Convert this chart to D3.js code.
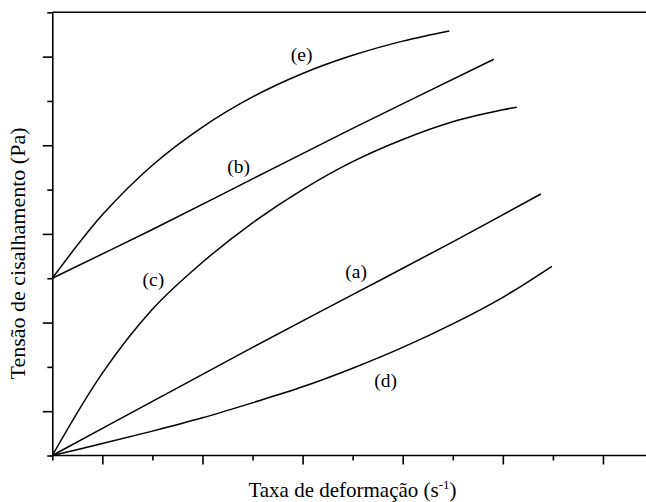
<!DOCTYPE html>
<html>
<head>
<meta charset="utf-8">
<script src="https://cdn.jsdelivr.net/npm/d3@7"></script>
<style>
  body { margin: 0; background: #fff; }
</style>
</head>
<body>
<svg id="chart" width="646" height="502"></svg>
<script>
// values (arbitrary units, the axes carry no tick labels)
const curve_a_x = [0, 2, 4, 6, 8, 9.76];
const curve_a_y = [0, 1.22, 2.44, 3.63, 4.82, 5.9];
const curve_b_x = [0, 2, 4, 6, 8.82];
const curve_b_y = [4.0, 5.1, 6.24, 7.38, 8.94];
const curve_c_x = [0, 1, 2, 3, 4, 5, 6, 7, 8, 9, 9.28];
const curve_c_y = [0, 1.86, 3.3, 4.36, 5.25, 6.0, 6.63, 7.13, 7.53, 7.8, 7.86];
const curve_d_x = [0, 1, 2, 3, 4, 5, 6, 7, 8, 9, 9.98];
const curve_d_y = [0, 0.27, 0.55, 0.85, 1.19, 1.55, 1.97, 2.44, 2.97, 3.57, 4.27];
const curve_e_x = [0, 1, 2, 3, 4, 5, 6, 7, 7.93];
const curve_e_y = [4.0, 5.43, 6.55, 7.41, 8.09, 8.62, 9.03, 9.35, 9.58];

const curve_names = ['(a)', '(b)', '(c)', '(d)', '(e)'];
const label_x = [6.07, 3.72, 2.02, 6.66, 4.98];
const label_y = [4.15, 6.52, 3.96, 1.70, 9.04];

const x_ticks = d3.range(0, 12);  // odd = major
const y_ticks = d3.range(0, 11);  // odd = major

const serif = "'Liberation Serif', 'Times New Roman', 'DejaVu Serif', serif";

const svg = d3.select('#chart');
const margin = {left: 52.3, top: 12.3, bottom: 46.5};
const x = d3.scaleLinear().domain([0, 12]).range([margin.left, margin.left + 12 * 50.06]);
const y = d3.scaleLinear().domain([0, 10]).range([502 - margin.bottom, margin.top]);

// frame
svg.append('line')
  .attr('x1', x(0)).attr('x2', 646)
  .attr('y1', y(10)).attr('y2', y(10))
  .attr('stroke', '#000').attr('stroke-width', 1.6);

const x_axis = svg.append('g')
  .attr('transform', `translate(0,${y(0)})`)
  .call(d3.axisBottom(x).tickValues(x_ticks).tickFormat('').tickSizeOuter(0));
x_axis.selectAll('.tick line').attr('y2', d => d % 2 ? 9 : 5);
x_axis.select('.domain').attr('d', `M${x(0)},0H646`);

const y_axis = svg.append('g')
  .attr('transform', `translate(${x(0)},0)`)
  .call(d3.axisLeft(y).tickValues(y_ticks).tickFormat('').tickSizeOuter(0));
y_axis.selectAll('.tick line').attr('x2', d => d % 2 ? -9.5 : -5);

svg.selectAll('.domain, .tick line').attr('stroke', '#000').attr('stroke-width', 1.6);

// curves
const curves = [
  [curve_a_x, curve_a_y],
  [curve_b_x, curve_b_y],
  [curve_c_x, curve_c_y],
  [curve_d_x, curve_d_y],
  [curve_e_x, curve_e_y]
].map(([xs, ys]) => xs.map((v, i) => [v, ys[i]]));

const line = d3.line()
  .x(d => x(d[0]))
  .y(d => y(d[1]))
  .curve(d3.curveCatmullRom.alpha(0.5));

svg.selectAll('.curve')
  .data(curves)
  .enter()
  .append('path')
  .attr('class', 'curve')
  .attr('d', line)
  .attr('fill', 'none')
  .attr('stroke', '#000')
  .attr('stroke-width', 1.5);

svg.selectAll('.curve-label')
  .data(curve_names)
  .enter()
  .append('text')
  .attr('class', 'curve-label')
  .attr('x', (d, i) => x(label_x[i]))
  .attr('y', (d, i) => y(label_y[i]))
  .attr('text-anchor', 'middle')
  .attr('dominant-baseline', 'central')
  .attr('font-family', serif)
  .attr('font-size', 19.5)
  .text(d => d);

// axis titles
const x_title = svg.append('text')
  .attr('x', 352.5)
  .attr('y', 496.5)
  .attr('text-anchor', 'middle')
  .attr('font-family', serif)
  .attr('font-size', 21)
  .text('Taxa de deformação (s');
x_title.append('tspan')
  .attr('dy', -8)
  .attr('font-size', 13)
  .text('-1');
x_title.append('tspan')
  .attr('dy', 8)
  .text(')');

svg.append('text')
  .attr('transform', 'translate(25,253.5) rotate(-90)')
  .attr('text-anchor', 'middle')
  .attr('font-family', serif)
  .attr('font-size', 22)
  .text('Tensão de cisalhamento (Pa)');
</script>
</body>
</html>
